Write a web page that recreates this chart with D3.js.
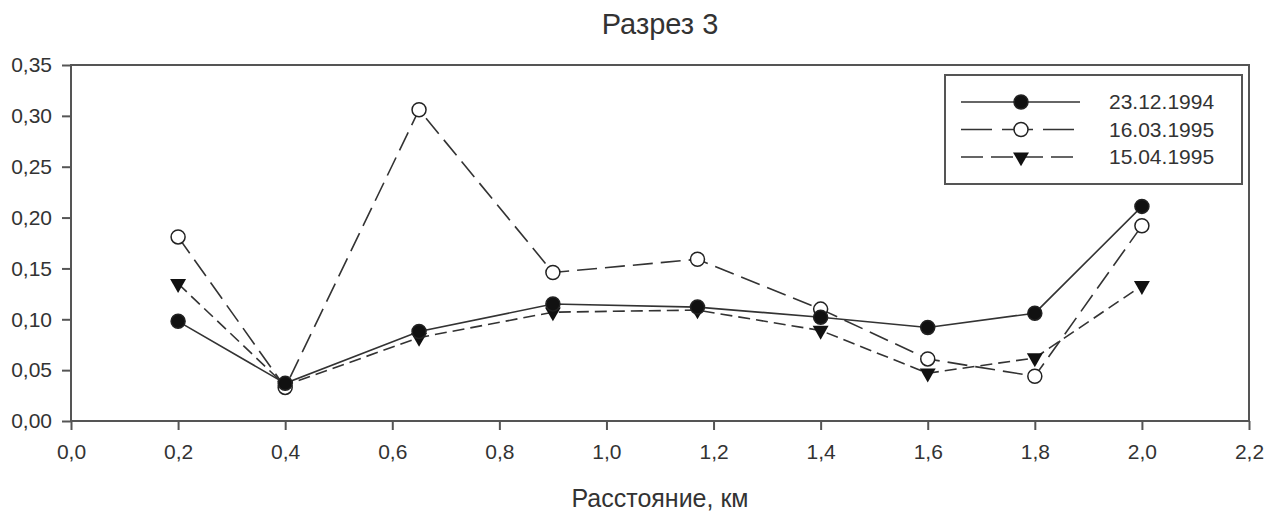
<!DOCTYPE html>
<html>
<head>
<meta charset="utf-8">
<script src="https://cdn.jsdelivr.net/npm/d3@7"></script>
<style>
  body { margin: 0; background: #fff; }
  text { font-family: Arial, "Liberation Sans", sans-serif; fill: #333; }
</style>
</head>
<body>
<div id="chart"></div>
<script>
// data
var distance = [0.2, 0.4, 0.65, 0.9, 1.17, 1.4, 1.6, 1.8, 2.0];
var d19941223 = [0.098, 0.037, 0.088, 0.115, 0.112, 0.102, 0.092, 0.106, 0.211];
var d19950316 = [0.181, 0.033, 0.306, 0.146, 0.159, 0.110, 0.061, 0.044, 0.192];
var d19950415 = [0.135, 0.035, 0.082, 0.107, 0.109, 0.089, 0.047, 0.062, 0.133];
var seriesNames = ["23.12.1994", "16.03.1995", "15.04.1995"];
var xTicks = [0, 0.2, 0.4, 0.6, 0.8, 1.0, 1.2, 1.4, 1.6, 1.8, 2.0, 2.2];
var yTicks = [0, 0.05, 0.10, 0.15, 0.20, 0.25, 0.30, 0.35];

var outerWidth = 1275, outerHeight = 515;
var margin = {top: 65, right: 26, bottom: 94, left: 71};
var innerWidth = outerWidth - margin.left - margin.right;
var innerHeight = outerHeight - margin.top - margin.bottom;

var svg = d3.select("#chart").append("svg")
  .attr("width", outerWidth)
  .attr("height", outerHeight);

var g = svg.append("g")
  .attr("transform", "translate(" + margin.left + "," + margin.top + ")");

var xScale = d3.scaleLinear().domain([0, 2.2]).range([0, innerWidth]);
var yScale = d3.scaleLinear().domain([0, 0.35]).range([innerHeight, 0]);

var comma = function(fmt) {
  return function(d) { return d3.format(fmt)(d).replace(".", ","); };
};

// axes
var xAxis = d3.axisBottom(xScale).tickValues(xTicks).tickSize(9).tickPadding(14).tickFormat(comma(".1f"));
var yAxis = d3.axisLeft(yScale).tickValues(yTicks).tickSize(9).tickPadding(10).tickFormat(comma(".2f"));

g.append("g").attr("class", "x axis")
  .attr("transform", "translate(0," + innerHeight + ")")
  .call(xAxis);
g.append("g").attr("class", "y axis").call(yAxis);

g.selectAll(".axis .domain").remove();
g.selectAll(".axis line").attr("stroke", "#555").attr("stroke-width", 2);
g.selectAll(".axis text")
  .style("font-size", "21px")
  .style("font-family", "Arial, 'Liberation Sans', sans-serif")
  .attr("fill", "#333");
g.selectAll(".axis").attr("font-size", null).attr("font-family", null);

// frame
g.append("rect")
  .attr("width", innerWidth)
  .attr("height", innerHeight)
  .attr("fill", "none")
  .attr("stroke", "#555")
  .attr("stroke-width", 2);

// series
var series = [
  {name: seriesNames[0], values: d19941223, dash: null, marker: "filled"},
  {name: seriesNames[1], values: d19950316, dash: "20,8", marker: "open"},
  {name: seriesNames[2], values: d19950415, dash: "12,6", marker: "triangle"}
];

var line = d3.line()
  .x(function(d) { return xScale(d[0]); })
  .y(function(d) { return yScale(d[1]); });

var triangle = d3.symbol().type(d3.symbolTriangle).size(110);

function drawMarker(sel, kind) {
  if (kind === "triangle") {
    sel.append("path")
      .attr("d", triangle())
      .attr("transform", "rotate(180)")
      .attr("fill", "#111");
  } else {
    sel.append("circle")
      .attr("r", 7)
      .attr("fill", kind === "filled" ? "#111" : "#fff")
      .attr("stroke", "#222")
      .attr("stroke-width", 1.5);
  }
}

// lines first, then markers (last series underneath)
series.slice().reverse().forEach(function(s) {
  var pts = distance.map(function(x, i) { return [x, s.values[i]]; });
  g.append("path")
    .datum(pts)
    .attr("fill", "none")
    .attr("stroke", "#333")
    .attr("stroke-width", 1.6)
    .attr("stroke-dasharray", s.dash)
    .attr("d", line);
});

series.slice().reverse().forEach(function(s) {
  var pts = distance.map(function(x, i) { return [x, s.values[i]]; });
  g.selectAll(null)
    .data(pts)
    .enter()
    .append("g")
    .attr("transform", function(d) { return "translate(" + xScale(d[0]) + "," + yScale(d[1]) + ")"; })
    .each(function() { drawMarker(d3.select(this), s.marker); });
});

// legend
var legend = svg.append("g").attr("transform", "translate(945,75)");
legend.append("rect")
  .attr("width", 297)
  .attr("height", 109)
  .attr("fill", "#fff")
  .attr("stroke", "#555")
  .attr("stroke-width", 2);

series.forEach(function(s, i) {
  var row = legend.append("g").attr("transform", "translate(0," + (27 + i * 27.5) + ")");
  row.append("line")
    .attr("x1", 16).attr("x2", 135)
    .attr("stroke", "#333")
    .attr("stroke-width", 1.6)
    .attr("stroke-dasharray", s.dash ? (i === 1 ? "31,10" : "22,8") : null);
  var m = row.append("g").attr("transform", "translate(76,0)");
  drawMarker(m, s.marker);
  row.append("text")
    .attr("x", 164)
    .attr("dy", "0.35em")
    .style("font-size", "21px")
    .text(s.name);
});

// titles
svg.append("text")
  .attr("x", 660)
  .attr("y", 34)
  .attr("text-anchor", "middle")
  .style("font-size", "29px")
  .text("Разрез 3");

svg.append("text")
  .attr("x", 660)
  .attr("y", 507)
  .attr("text-anchor", "middle")
  .style("font-size", "25px")
  .text("Расстояние, км");
</script>
</body>
</html>
